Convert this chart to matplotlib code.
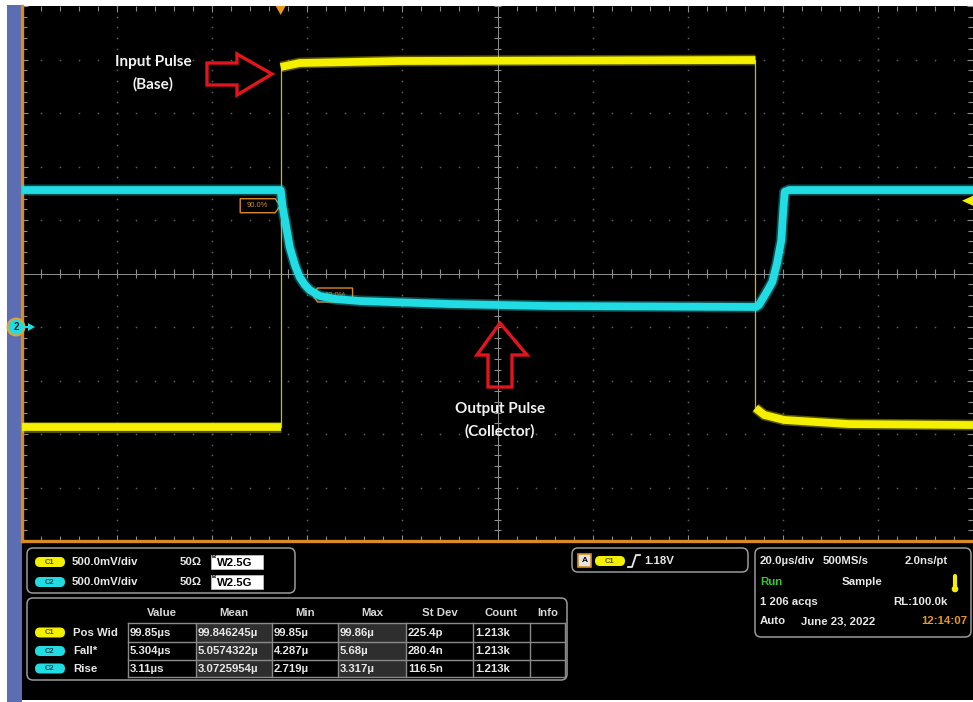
import matplotlib
matplotlib.use("Agg")
import matplotlib.pyplot as plt
import numpy as np
from matplotlib.patches import Polygon, FancyBboxPatch, Rectangle, Circle

# ---- acquisition settings -------------------------------------------------
TIME_PER_DIV = 20.0      # µs / div
VOLTS_PER_DIV = 0.5      # V / div (both channels)
GND_DIV = -1.0           # ground marker position of both channels (div)
TRIG_LEVEL = 1.18        # V, C1 rising edge
H_DIVS, V_DIVS = 10, 10

# ---- C1 : input pulse at the base (time in µs, level in V) ----------------
c1_low_t = [-100.0, -45.6]
c1_low_v = [-0.935, -0.935]
c1_high_t = [-45.6, -41.6, -20.6, 52.9, 54.25]
c1_high_v = [2.43, 2.467, 2.486, 2.495, 2.495]
c1_tail_t = [54.25, 56.1, 60.3, 73.9, 100.0]
c1_tail_v = [-0.757, -0.822, -0.869, -0.907, -0.916]

# ---- C2 : output at the collector ----------------------------------------
c2_t = [-100.0, -45.6, -45.2, -44.5, -43.7, -42.6, -41.6, -40.5, -39.5, -37.4,
        -34.2, -29.0, -10.1, 10.9, 54.4, 55.0, 56.5, 57.8, 58.8, 59.7, 60.1,
        60.4, 61.3, 100.0]
c2_v = [1.28, 1.28, 1.121, 0.953, 0.748, 0.579, 0.467, 0.393, 0.346, 0.290,
        0.262, 0.243, 0.215, 0.196, 0.187, 0.206, 0.318, 0.421, 0.598, 0.813,
        1.093, 1.262, 1.28, 1.28]
c2_top, c2_base = 1.28, 0.19

# ---- measurement table ----------------------------------------------------
meas_headers = ["Value", "Mean", "Min", "Max", "St Dev", "Count", "Info"]
meas_source = ["C1", "C2", "C2"]
meas_names = ["Pos Wid", "Fall*", "Rise"]
meas_value = ["99.85µs", "5.304µs", "3.11µs"]
meas_mean = ["99.846245µ", "5.0574322µ", "3.0725954µ"]
meas_min = ["99.85µ", "4.287µ", "2.719µ"]
meas_max = ["99.86µ", "5.68µ", "3.317µ"]
meas_stdev = ["225.4p", "280.4n", "116.5n"]
meas_count = ["1.213k", "1.213k", "1.213k"]
fall_time = 5.304

# ---- colours --------------------------------------------------------------
YEL = "#f4f000"
CYA = "#22dce4"
ORANGE = "#d98a22"
GRID = "#5e5e5e"
AXIS = "#8e8e8e"
TXT = "#e8e8e8"
RED = "#e3151c"
UIFONT = "Liberation Sans"

W, H = 973, 702
fig = plt.figure(figsize=(W / 100, H / 100), dpi=100)
fig.patch.set_facecolor("white")

# background layer in pixel units (y downwards)
bg = fig.add_axes([0, 0, 1, 1], zorder=0)
bg.set_xlim(0, W)
bg.set_ylim(H, 0)
bg.axis("off")
bg.add_patch(Rectangle((7, 5), 15, H - 5, color="#5b6db3", lw=0))
bg.add_patch(Rectangle((22, 541), W - 22, 159, color="black", lw=0))

# ---- scope graticule -------------------------------------------------------
x_lo, x_hi = -H_DIVS / 2 * TIME_PER_DIV, H_DIVS / 2 * TIME_PER_DIV
y_lo = (-V_DIVS / 2 - GND_DIV) * VOLTS_PER_DIV
y_hi = (V_DIVS / 2 - GND_DIV) * VOLTS_PER_DIV
y_mid = (y_lo + y_hi) / 2

L, R, T, B = 22, 973, 6, 541
ax = fig.add_axes([L / W, 1 - B / H, (R - L) / W, (B - T) / H], zorder=1)
ax.set_facecolor("black")
ax.set_xlim(x_lo, x_hi)
ax.set_ylim(y_lo, y_hi)

x_major = np.linspace(x_lo, x_hi, H_DIVS + 1)
y_major = np.linspace(y_lo, y_hi, V_DIVS + 1)
x_minor = np.linspace(x_lo, x_hi, H_DIVS * 5 + 1)
y_minor = np.linspace(y_lo, y_hi, V_DIVS * 5 + 1)

ax.set_xticks(x_major)
ax.set_yticks(y_major)
ax.set_xticks(x_minor, minor=True)
ax.set_yticks(y_minor, minor=True)
ax.tick_params(which="both", direction="in", color=AXIS, width=0.8,
               top=True, right=True, labelbottom=False, labelleft=False)
ax.tick_params(which="major", length=4.5)
ax.tick_params(which="minor", length=3.5)
for side in ("top", "right"):
    ax.spines[side].set_visible(False)
for side in ("left", "bottom"):
    ax.spines[side].set_color(ORANGE)
    ax.spines[side].set_linewidth(2.4)

# dotted division lines
for xv in x_major[1:-1]:
    if abs(xv) < 1e-9:
        continue
    ax.plot(np.full_like(y_minor, xv), y_minor, ls="none", marker="s",
            ms=1.1, mew=0, color=GRID, zorder=1)
for yv in y_major[1:-1]:
    if abs(yv - y_mid) < 1e-9:
        continue
    ax.plot(x_minor, np.full_like(x_minor, yv), ls="none", marker="s",
            ms=1.1, mew=0, color=GRID, zorder=1)

# centre cross with minor ticks
ax.axhline(y_mid, color=AXIS, lw=0.7, zorder=1)
ax.axvline(0, color=AXIS, lw=0.7, zorder=1)
dy = 0.04
dx = 0.8
ax.vlines(x_minor, y_mid - dy, y_mid + dy, color=AXIS, lw=0.8, zorder=1)
ax.hlines(y_minor, -dx, dx, color=AXIS, lw=0.8, zorder=1)

# ---- cursor tags at 90 % / 10 % of the C2 fall ---------------------------
US_PX = (x_hi - x_lo) / (R - L)
V_PX = (y_hi - y_lo) / (B - T)
lvl90 = c2_base + 0.9 * (c2_top - c2_base)
lvl10 = c2_base + 0.1 * (c2_top - c2_base)
t90 = c1_high_t[0] + 0.2
t10 = t90 + fall_time + 1.2

def tag(tip_t, level, text, point_right):
    w, h, p = 40 * US_PX, 7 * V_PX, 5 * US_PX
    if point_right:
        xs = [tip_t - w, tip_t - p, tip_t, tip_t - p, tip_t - w]
        cx = tip_t - (w + p) / 2
    else:
        xs = [tip_t + w, tip_t + p, tip_t, tip_t + p, tip_t + w]
        cx = tip_t + (w + p) / 2
    ys = [level + h, level + h, level, level - h, level - h]
    ax.add_patch(Polygon(list(zip(xs, ys)), closed=True, fill=False,
                         ec=ORANGE, lw=1.0, zorder=2))
    ax.text(cx, level, text, color=ORANGE, fontsize=5.5, ha="center",
            va="center", family=UIFONT, zorder=2)

tag(t90 - 0.3, lvl90 - 4 * V_PX, "90.0%", True)
tag(t10, lvl10, "10.0%", False)

# ---- traces ---------------------------------------------------------------
edge_kw = dict(color="#c4bc10", lw=0.9, zorder=3)
ax.plot([c1_low_t[-1], c1_high_t[0]], [c1_low_v[-1], c1_high_v[0]], **edge_kw)
ax.plot([c1_high_t[-1], c1_tail_t[0]], [c1_high_v[-1], c1_tail_v[0]], **edge_kw)
for ts, vs in ((c1_low_t, c1_low_v), (c1_high_t, c1_high_v),
               (c1_tail_t, c1_tail_v)):
    ax.plot(ts, vs, color=YEL, lw=7.8, alpha=0.35, solid_capstyle="butt",
            solid_joinstyle="miter", zorder=3)
    ax.plot(ts, vs, color=YEL, lw=5.6, solid_capstyle="butt",
            solid_joinstyle="miter", zorder=3)

ax.plot(c2_t, c2_v, color=CYA, lw=8.0, alpha=0.35, solid_capstyle="butt",
        solid_joinstyle="round", zorder=4)
ax.plot(c2_t, c2_v, color=CYA, lw=5.6, solid_capstyle="butt",
        solid_joinstyle="round", zorder=4)

# ---- overlay layer (pixel units) ------------------------------------------
ov = fig.add_axes([0, 0, 1, 1], zorder=2)
ov.set_xlim(0, W)
ov.set_ylim(H, 0)
ov.axis("off")
ov.patch.set_alpha(0)

def to_px(t, v):
    d = ax.transData.transform((t, v))
    return ov.transData.inverted().transform(d)

# trigger position marker (top) and trigger level marker (right)
tx, _ = to_px(c1_high_t[0], y_hi)
ov.add_patch(Polygon([(tx - 5, 6), (tx + 5, 6), (tx, 15)], color="#e8961e",
                     lw=0))
_, ty = to_px(x_hi, TRIG_LEVEL)
ov.add_patch(Polygon([(973, ty - 5), (973, ty + 5), (962, ty)], color=YEL,
                     lw=0))

# channel 2 ground badge (0 V)
_, gy = to_px(x_lo, 0.0)
ov.add_patch(Circle((16, gy), 8.5, fc=CYA, ec="#e8a030", lw=1.4))
ov.text(16, gy + 0.5, "2", color="#102020", fontsize=7, fontweight="bold",
        ha="center", va="center", family=UIFONT)
ov.plot([24, 29], [gy, gy], color=CYA, lw=1.5)
ov.add_patch(Polygon([(28, gy - 4), (28, gy + 4), (35, gy)], color=CYA, lw=0))

# annotations
ov.add_patch(Polygon([(207, 63), (237, 63), (237, 54), (272, 74), (237, 95),
                      (237, 85), (207, 85)], closed=True, fill=False, ec=RED,
                     lw=2.4, joinstyle="miter"))
ov.add_patch(Polygon([(500, 323), (527, 355), (512, 355), (512, 387),
                      (488, 387), (488, 355), (477, 355)], closed=True,
                     fill=False, ec=RED, lw=2.4, joinstyle="miter"))
ann_kw = dict(color="#f2f2f2", fontsize=11, fontweight="bold", family="Lato",
              ha="center", va="center")
ov.text(153, 62, "Input Pulse", **ann_kw)
ov.text(153, 84, "(Base)", **ann_kw)
ov.text(500, 409, "Output Pulse", **ann_kw)
ov.text(500, 431, "(Collector)", **ann_kw)

# ---- status panel ---------------------------------------------------------
FS = 8.2

def rbox(x0, y0, x1, y1):
    ov.add_patch(FancyBboxPatch((x0, y0), x1 - x0, y1 - y0,
                                boxstyle="round,pad=0,rounding_size=6",
                                fc="none", ec="#9a9a9a", lw=1.1))

def pill(xc, yc, label, fc, tc):
    ov.add_patch(FancyBboxPatch((xc - 15, yc - 5), 30, 10,
                                boxstyle="round,pad=0,rounding_size=5",
                                fc=fc, ec="none"))
    ov.text(xc, yc + 0.3, label, color=tc, fontsize=5.5, fontweight="bold",
            ha="center", va="center", family=UIFONT)

def txt(x, y, s, color=TXT, ha="left", size=FS):
    ov.text(x, y, s, color=color, fontsize=size, fontweight="bold",
            ha=ha, va="center", family=UIFONT)

chan_color = {"C1": (YEL, "#5a5500"), "C2": (CYA, "#0d4b50")}

# channel settings
rbox(27, 548, 295, 593)
for yc, ch in ((562, "C1"), (582, "C2")):
    pill(50, yc, ch, *chan_color[ch])
    txt(72, yc, "500.0mV/div")
    txt(180, yc, "50Ω")
    ov.add_patch(Rectangle((211, yc - 7), 52, 14, fc="white", ec="#bbbbbb",
                           lw=0.6))
    ov.text(212, yc - 5.5, "B", color="black", fontsize=4.2,
            fontweight="bold", ha="left", va="center", family=UIFONT)
    ov.text(216.5, yc + 1, "W2.5G", color="black", fontsize=FS,
            fontweight="bold", ha="left", va="center", family=UIFONT)

# measurement table
rbox(27, 598, 567, 680)
col_x = [128, 196, 272, 338, 406, 473, 530, 565]
row_y = [623, 642, 660, 677]
for ci, name in enumerate(meas_headers):
    txt((col_x[ci] + col_x[ci + 1]) / 2, 613, name, color="#d8d8d8",
        ha="center")
for ci in (1, 3):
    ov.add_patch(Rectangle((col_x[ci], row_y[0]), col_x[ci + 1] - col_x[ci],
                           row_y[-1] - row_y[0], fc="#2e2e2e", ec="none"))
for xv in col_x:
    ov.plot([xv, xv], [row_y[0], row_y[-1]], color="#8a8a8a", lw=1.0)
for yv in row_y:
    ov.plot([col_x[0], col_x[-1]], [yv, yv], color="#8a8a8a", lw=1.0)
columns = [meas_value, meas_mean, meas_min, meas_max, meas_stdev, meas_count]
for ri in range(len(meas_names)):
    yc = (row_y[ri] + row_y[ri + 1]) / 2
    pill(50, yc, meas_source[ri], *chan_color[meas_source[ri]])
    txt(73, yc, meas_names[ri])
    for ci, col in enumerate(columns):
        txt(col_x[ci] + 2, yc, col[ri])

# trigger box
rbox(572, 548, 748, 572)
ov.add_patch(Rectangle((578, 554), 13, 13, fc="#e4e4e4", ec=ORANGE, lw=1.2))
ov.text(584.5, 561, "A", color="black", fontsize=6, fontweight="bold",
        ha="center", va="center", family=UIFONT)
pill(610, 561, "C1", *chan_color["C1"])
ov.plot([628, 632, 636, 640], [567, 567, 555, 555], color=TXT, lw=1.3)
txt(644, 561, "%.2fV" % TRIG_LEVEL)

# timebase box
rbox(755, 548, 971, 637)
txt(760, 561, "%.1fµs/div" % TIME_PER_DIV)
txt(823, 561, "500MS/s")
txt(948, 561, "2.0ns/pt", ha="right")
txt(760, 582, "Run", color="#2ccd2c")
txt(842, 582, "Sample")
ov.plot([955, 955], [576, 587], color=YEL, lw=3, solid_capstyle="round")
ov.add_patch(Circle((955, 589), 2.6, color=YEL))
txt(760, 602, "1 206 acqs")
txt(948, 602, "RL:100.0k", ha="right")
txt(760, 621, "Auto")
txt(801, 621, "June 23, 2022")
txt(967, 621, "12:14:07", color="#e8961e", ha="right")

fig.savefig("out.png", dpi=100, facecolor=fig.get_facecolor())
